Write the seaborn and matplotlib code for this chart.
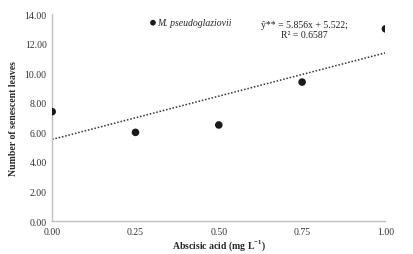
import numpy as np
import pandas as pd
import matplotlib
matplotlib.use("Agg")
import matplotlib.pyplot as plt
import seaborn as sns

# data
aba = [0.00, 0.25, 0.50, 0.75, 1.00]
leaves = [7.4, 6.0, 6.5, 9.4, 13.0]
slope, intercept = 5.856, 5.522
x_ticks = [0.00, 0.25, 0.50, 0.75, 1.00]
y_ticks = [0, 2, 4, 6, 8, 10, 12, 14]

sns.set_style("white")
plt.rcParams['font.family'] = ['Liberation Serif', 'DejaVu Serif']
plt.rcParams['mathtext.fontset'] = 'custom'
plt.rcParams['mathtext.rm'] = 'Liberation Serif'
plt.rcParams['mathtext.bf'] = 'Liberation Serif:bold'

df = pd.DataFrame({"aba": aba, "leaves": leaves})

fig = plt.figure(figsize=(4.14, 2.55), dpi=100)
ax = fig.add_axes([0.126, 0.129, 0.805, 0.812])

sns.scatterplot(data=df, x="aba", y="leaves", ax=ax, color="#1a1a1a",
                s=30, edgecolor="none", label="M. pseudoglaziovii", zorder=3)

xs = np.array([min(aba), max(aba)])
ax.plot(xs, slope * xs + intercept, color="#333333", lw=1.1,
        linestyle=(0, (1, 1.2)))

ax.set_xlim(0, 1)
ax.set_ylim(0, 14)
ax.set_xticks(x_ticks)
ax.set_xticklabels([f"{v:.2f}" for v in x_ticks])
ax.set_yticks(y_ticks)
ax.set_yticklabels([f"{v:.2f}" for v in y_ticks])
ax.tick_params(axis="both", length=0, labelsize=7, pad=4, colors="#333333")

for s in ["top", "right"]:
    ax.spines[s].set_visible(False)
for s in ["left", "bottom"]:
    ax.spines[s].set_color("#bfbfbf")
    ax.spines[s].set_linewidth(1.0)

ax.set_xlabel(r"Abscisic acid (mg L$^{\mathbf{-1}}$)", fontsize=7, fontweight="bold", labelpad=1)
ax.set_ylabel("Number of senescent leaves", fontsize=7, fontweight="bold", labelpad=5)

leg = ax.legend(loc="center left", bbox_to_anchor=(0.285, 0.958), frameon=False,
                fontsize=7, handletextpad=-0.2, handlelength=1.2,
                markerscale=0.75, borderpad=0.0, borderaxespad=0.0)
for t in leg.get_texts():
    t.set_style("italic")

ax.text(0.757, 0.925, "ŷ** = 5.856x + 5.522;\nR² = 0.6587", transform=ax.transAxes,
        fontsize=7, ha="center", va="center", linespacing=1.25, color="#222222")

fig.savefig("out.png", dpi=100)
